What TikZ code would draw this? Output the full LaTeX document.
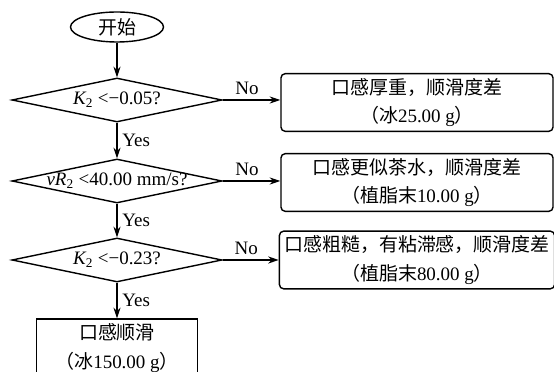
\documentclass[tikz,border=0pt]{standalone}
\usepackage{fontspec}
\setmainfont{Liberation Serif}
\newfontfamily\cjk{Noto Sans CJK SC}
\usetikzlibrary{shapes.geometric}
\usetikzlibrary{arrows.meta,positioning}
\newcommand{\zh}[1]{{\cjk #1}}

\begin{document}
\begin{tikzpicture}[x=0.025cm,y=-0.025cm,
	every node/.style={font=\fontsize{13.5}{20}\selectfont},
	startnode/.style={ellipse, draw, line width=1pt, minimum width=2.325cm, minimum height=0.75cm, inner sep=0},
	decision/.style={diamond, draw, line width=1pt, minimum width=5.25cm, minimum height=1.1cm, inner sep=0},
	result/.style={rectangle, rounded corners=3pt, draw, line width=1pt, minimum width=6.8cm, minimum height=1.375cm, align=center},
	final/.style={rectangle, draw, line width=1pt, minimum width=4.025cm, minimum height=1.45cm, align=center},
	flow/.style={line width=0.9pt, -{Stealth[length=7.5pt,width=5pt]}}]
		\useasboundingbox (0,0) rectangle (554,372);

		\node[startnode] (start) at (117,27) {\zh{开始}};

		\node[decision, label=center:{{\itshape K}\textsubscript{2} <−0.05?}] (d1) at (117,100) {};
		\node[decision, label=center:{{\itshape vR}\textsubscript{2} <40.00 mm/s?}] (d2) at (117,181) {};
		\node[decision, label=center:{{\itshape K}\textsubscript{2} <−0.23?}] (d3) at (117,260) {};

		\node[result] (thick) at (417,102.5) {\zh{口感厚重，顺滑度差}\\\zh{（冰}25.00 g\zh{）}};
		\node[result] (tea) at (417,182.5) {\zh{口感更似茶水，顺滑度差}\\\zh{（植脂末}10.00 g\zh{）}};
		\node[result] (rough) at (417,260) {\zh{口感粗糙，有粘滞感，顺滑度差}\\\zh{（植脂末}80.00 g\zh{）}};
		\node[final] (smooth) at (117,348) {\zh{口感顺滑}\\\zh{（冰}150.00 g\zh{）}};

		\draw[flow] (start) -- (d1);
		\draw[flow] (d1) -- node[right] {Yes} (d2);
		\draw[flow] (d2) -- node[right] {Yes} (d3);
		\draw[flow] (d3) -- node[right] {Yes} (smooth);

		\draw[flow] (d1.east) -- node[above, pos=0.42] {No} (d1.east -| thick.west);
		\draw[flow] (d2.east) -- node[above, pos=0.42] {No} (d2.east -| tea.west);
		\draw[flow] (d3.east) -- node[above, pos=0.42] {No} (d3.east -| rough.west);
	\end{tikzpicture}
\end{document}
